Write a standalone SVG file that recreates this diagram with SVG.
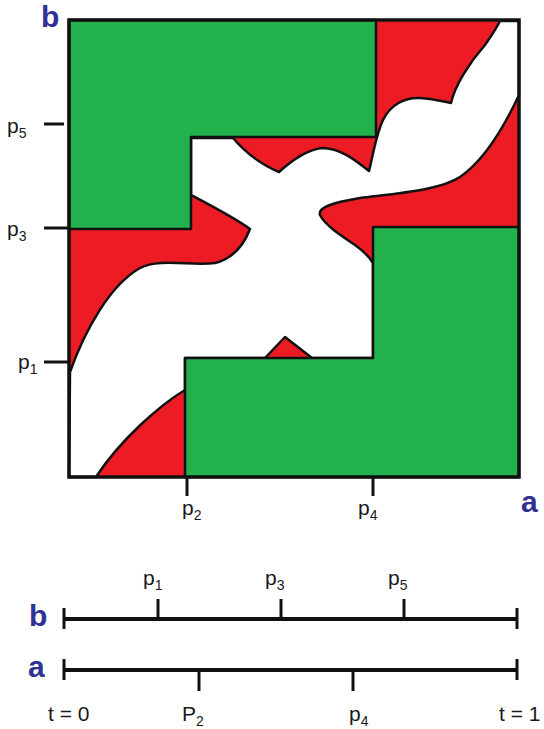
<svg xmlns="http://www.w3.org/2000/svg" width="544" height="729" viewBox="0 0 544 729">
<style>
.lbl{font-family:"Liberation Sans",Arial,sans-serif;font-size:21px;fill:#1a1a1a}
.sub{font-size:14px}
.big{font-family:"Liberation Sans",Arial,sans-serif;font-size:30px;font-weight:bold;fill:#2f3292}
.tick{stroke:#111;stroke-width:3;fill:none}
.edge{stroke:#111;stroke-width:2.5;stroke-linejoin:round}
</style>
<g id="square">
<rect x="69" y="20" width="450" height="457" fill="#ed1c24"/>
<path id="band" class="edge" fill="#ffffff" d="M70,372 C85,330 110,285 140,268 C160,258 190,266 215,263 C235,258 245,242 250,229 C235,218 210,205 191,195 L191,138 L233,138 C245,152 262,165 279,172 C290,162 305,150 322,148 C340,148 355,160 369,171 C373,155 376,135 383,120 C390,105 405,97 420,98 C435,99 445,102 451,103 C455,85 470,62 485,45 C492,35 497,27 500,21 L519,21 L519,95 C505,125 485,160 460,177 C440,190 400,193 360,198 C330,203 318,208 320,215 C325,225 340,235 355,245 C362,250 370,258 373,263 L373,358 L312,358 L285,337 L265,358 L185,358 L185,390 C160,405 120,440 96,477 L69,477 Z"/>
<path id="green-top" class="edge" fill="#22b14c" d="M69,20 H376 V137 H191 V229 H69 Z"/>
<path id="green-bottom" class="edge" fill="#22b14c" d="M185,477 V358 H373 V227 H519 V477 Z"/>
<rect x="69" y="20" width="450" height="457" fill="none" stroke="#111" stroke-width="3.5"/>
</g>
<g id="axis-ticks">
<line class="tick" x1="44" y1="124" x2="64" y2="124"/>
<line class="tick" x1="44" y1="228" x2="69" y2="228"/>
<line class="tick" x1="44" y1="362" x2="69" y2="362"/>
<line class="tick" x1="187" y1="477" x2="187" y2="496"/>
<line class="tick" x1="373" y1="477" x2="373" y2="496"/>
</g>
<g id="square-labels">
<text class="big" x="41" y="27">b</text>
<text class="big" x="521" y="512">a</text>
<text class="lbl" x="7" y="133">p<tspan class="sub" dy="5">5</tspan></text>
<text class="lbl" x="7" y="236">p<tspan class="sub" dy="5">3</tspan></text>
<text class="lbl" x="18" y="369">p<tspan class="sub" dy="5">1</tspan></text>
<text class="lbl" x="182" y="515">p<tspan class="sub" dy="5">2</tspan></text>
<text class="lbl" x="358" y="515">p<tspan class="sub" dy="5">4</tspan></text>
</g>
<g id="timeline-b">
<line x1="64" y1="619" x2="517" y2="619" stroke="#111" stroke-width="4"/>
<line class="tick" x1="64" y1="608" x2="64" y2="629"/>
<line class="tick" x1="517" y1="608" x2="517" y2="629"/>
<line class="tick" x1="158" y1="599" x2="158" y2="619"/>
<line class="tick" x1="281" y1="599" x2="281" y2="619"/>
<line class="tick" x1="404" y1="599" x2="404" y2="619"/>
<text class="big" x="29" y="626">b</text>
<text class="lbl" x="143" y="585">p<tspan class="sub" dy="5">1</tspan></text>
<text class="lbl" x="265" y="585">p<tspan class="sub" dy="5">3</tspan></text>
<text class="lbl" x="388" y="585">p<tspan class="sub" dy="5">5</tspan></text>
</g>
<g id="timeline-a">
<line x1="64" y1="670" x2="517" y2="670" stroke="#111" stroke-width="4"/>
<line class="tick" x1="64" y1="659" x2="64" y2="680"/>
<line class="tick" x1="517" y1="659" x2="517" y2="680"/>
<line class="tick" x1="199" y1="670" x2="199" y2="691"/>
<line class="tick" x1="353" y1="670" x2="353" y2="691"/>
<text class="big" x="28" y="677">a</text>
<text class="lbl" x="48" y="721">t = 0</text>
<text class="lbl" x="182" y="721">P<tspan class="sub" dy="5">2</tspan></text>
<text class="lbl" x="349" y="721">p<tspan class="sub" dy="5">4</tspan></text>
<text class="lbl" x="499" y="721">t = 1</text>
</g>
</svg>
